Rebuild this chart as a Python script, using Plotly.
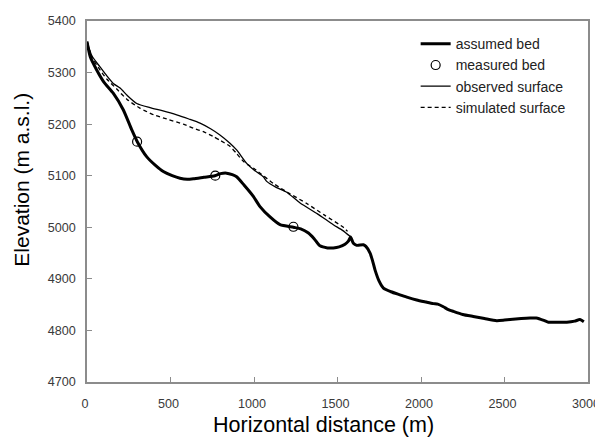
import plotly.graph_objects as go

# Assumed bed (thick line)
bed_x = [0, 20, 58, 100, 157, 217, 268, 301, 357, 410, 457, 510, 557, 600, 637, 700, 766, 800, 836, 870, 896, 940, 996, 1036, 1096, 1156, 1236, 1280, 1326, 1360, 1395, 1440, 1475, 1510, 1545, 1565, 1578, 1595, 1615, 1655, 1670, 1695, 1710, 1725, 1750, 1775, 1820, 1874, 1920, 1974, 2030, 2074, 2100, 2134, 2160, 2194, 2250, 2313, 2380, 2453, 2500, 2533, 2600, 2653, 2690, 2713, 2740, 2763, 2820, 2873, 2920, 2952, 2975]
bed_y = [5360, 5330, 5305, 5282, 5260, 5228, 5189, 5166, 5137, 5120, 5108, 5100, 5095, 5093, 5094, 5097, 5100, 5104, 5105, 5102, 5098, 5082, 5060, 5040, 5020, 5005, 5000, 4997, 4989, 4978, 4964, 4960, 4960, 4962, 4967, 4973, 4981, 4969, 4965, 4966, 4963, 4950, 4935, 4917, 4895, 4882, 4875, 4869, 4864, 4859, 4855, 4852, 4851, 4846, 4841, 4837, 4831, 4827, 4823, 4819, 4820, 4821, 4823, 4824, 4824, 4822, 4819, 4816, 4816, 4816, 4818, 4821, 4817]

# Measured bed (open circles)
meas_x = [300, 768, 1236]
meas_y = [5166, 5100, 5001]

# Observed surface (thin solid)
obs_x = [0, 30, 78, 120, 157, 198, 240, 298, 377, 450, 537, 610, 677, 740, 796, 856, 896, 956, 1000, 1056, 1076, 1130, 1196, 1276, 1380, 1475, 1530, 1577]
obs_y = [5360, 5332, 5311, 5293, 5279, 5270, 5256, 5240, 5232, 5226, 5218, 5210, 5202, 5191, 5179, 5163, 5150, 5124, 5111, 5098, 5089, 5078, 5068, 5047, 5026, 5005, 4994, 4982]

# Simulated surface (dashed)
sim_x = [0, 30, 78, 120, 178, 240, 317, 400, 477, 577, 637, 700, 756, 800, 856, 896, 936, 960, 1000, 1116, 1200, 1316, 1420, 1535, 1560]
sim_y = [5360, 5330, 5305, 5287, 5268, 5248, 5231, 5218, 5210, 5200, 5192, 5185, 5176, 5168, 5157, 5143, 5128, 5122, 5114, 5085, 5068, 5046, 5024, 5000, 4992]

x_ticks = [0, 500, 1000, 1500, 2000, 2500, 3000]
y_ticks = [4700, 4800, 4900, 5000, 5100, 5200, 5300, 5400]

x_title = "Horizontal distance (m)"
y_title = "Elevation (m a.s.l.)"

fig = go.Figure()
fig.add_trace(go.Scatter(x=bed_x, y=bed_y, mode="lines", name="assumed bed",
                         line=dict(color="black", width=3, shape="spline", smoothing=0.6)))
fig.add_trace(go.Scatter(x=meas_x, y=meas_y, mode="markers", name="measured bed",
                         marker=dict(symbol="circle-open", size=9, color="black",
                                     line=dict(width=1.2, color="black"))))
fig.add_trace(go.Scatter(x=obs_x, y=obs_y, mode="lines", name="observed surface",
                         line=dict(color="black", width=1.3, shape="spline", smoothing=0.6)))
fig.add_trace(go.Scatter(x=sim_x, y=sim_y, mode="lines", name="simulated surface",
                         line=dict(color="black", width=1.3, dash="4px,3px", shape="spline", smoothing=0.6)))

axis_common = dict(showline=True, linecolor="#8c8c8c", linewidth=1.5, mirror=True,
                   ticks="inside", ticklen=5, tickcolor="#8c8c8c", showgrid=False,
                   zeroline=False, automargin=False,
                   tickfont=dict(family="Liberation Sans, Arial", size=12.6, color="#3a3a3a"))

fig.update_layout(
    width=595, height=429,
    margin=dict(l=79, r=15, t=13, b=55),
    plot_bgcolor="white", paper_bgcolor="white",
    font=dict(family="Liberation Sans, Arial", color="black"),
    xaxis=dict(range=[0, 3000], tickvals=x_ticks, ticklabelstandoff=9, ticklabelshift=-2, **axis_common),
    yaxis=dict(range=[4700, 5400], tickvals=y_ticks, ticklabelstandoff=7, **axis_common),
    legend=dict(x=0.656, y=0.98, xanchor="left", yanchor="top", bgcolor="rgba(0,0,0,0)",
                font=dict(size=14, color="#222"), itemwidth=30, tracegroupgap=0),
    showlegend=True,
    annotations=[
        dict(text=x_title, xref="paper", yref="paper", x=0.473, y=-0.119,
             xanchor="center", yanchor="middle", showarrow=False,
             font=dict(size=21.5, color="black")),
        dict(text=y_title, xref="paper", yref="paper", x=-0.130, y=0.56,
             xanchor="center", yanchor="middle", showarrow=False, textangle=-90,
             font=dict(size=21, color="black")),
    ],
)

fig.write_html("out.html")
